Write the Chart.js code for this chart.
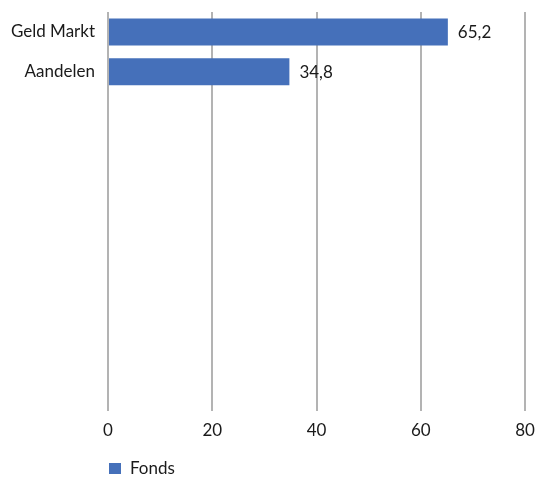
<!DOCTYPE html>
<html>
<head>
<meta charset="utf-8">
<script src="https://cdn.jsdelivr.net/npm/chart.js@4.4.0/dist/chart.umd.min.js"></script>
<style>
  html, body { margin: 0; padding: 0; background: #fff; }
  #wrap { width: 550px; height: 477px; }
</style>
</head>
<body>
<div id="wrap"><canvas id="fondsChart"></canvas></div>
<script>
// categorieën (lege plekken zoals in het origineel)
const categories = ['Geld Markt', 'Aandelen', '', '', '', '', '', '', '', ''];
const fondsValues = [65.2, 34.8, null, null, null, null, null, null, null, null];
const xTicks = [0, 20, 40, 60, 80];

const FONT = "Lato, 'Open Sans', sans-serif";
const FSIZE = 17;
const BLUE = '#4570BA';

// waarde naast de balk tekenen, met komma als decimaalteken
const valueLabels = {
  id: 'valueLabels',
  afterDatasetsDraw(chart) {
    const ctx = chart.ctx;
    const meta = chart.getDatasetMeta(0);
    ctx.save();
    ctx.font = FSIZE + 'px ' + FONT;
    ctx.fillStyle = '#1a1a1a';
    ctx.textAlign = 'left';
    ctx.textBaseline = 'middle';
    meta.data.forEach((bar, i) => {
      const v = fondsValues[i];
      if (v == null) return;
      ctx.fillText(v.toFixed(1).replace('.', ','), bar.x + 10, bar.y + 1);
    });
    ctx.restore();
  }
};

// legenda linksonder, gelijk met de 0-lijn
const bottomLegend = {
  id: 'bottomLegend',
  afterDraw(chart) {
    const ctx = chart.ctx;
    const ds = chart.data.datasets[0];
    const x = chart.chartArea.left + 1;
    const y = 463;
    ctx.save();
    ctx.fillStyle = ds.backgroundColor;
    ctx.fillRect(x, y, 12, 11);
    ctx.font = FSIZE + 'px ' + FONT;
    ctx.fillStyle = '#1a1a1a';
    ctx.textBaseline = 'middle';
    ctx.fillText(ds.label, x + 21, y + 6);
    ctx.restore();
  }
};

new Chart(document.getElementById('fondsChart'), {
  type: 'bar',
  data: {
    labels: categories,
    datasets: [{
      label: 'Fonds',
      data: fondsValues,
      backgroundColor: BLUE,
      borderWidth: 0,
      barPercentage: 0.68,
      categoryPercentage: 1.0
    }]
  },
  options: {
    indexAxis: 'y',
    responsive: true,
    maintainAspectRatio: false,
    animation: false,
    layout: { padding: { left: 0, right: 25, top: 12, bottom: 26 } },
    plugins: {
      legend: { display: false },
      tooltip: { enabled: false }
    },
    scales: {
      x: {
        min: 0,
        max: 80,
        afterBuildTicks(axis) { axis.ticks = xTicks.map(v => ({ value: v })); },
        grid: { color: '#b3b3b3', lineWidth: 2, drawTicks: false },
        border: { display: false },
        ticks: { padding: 10, color: '#1a1a1a', font: { family: FONT, size: FSIZE } }
      },
      y: {
        afterFit(scale) {
          scale.width = 108;
          scale.paddingTop = 0;
          scale.paddingBottom = 0;
        },
        grid: { display: false, drawTicks: false },
        border: { display: false },
        ticks: { padding: 13, color: '#1a1a1a', autoSkip: false, font: { family: FONT, size: FSIZE } }
      }
    }
  },
  plugins: [valueLabels, bottomLegend]
});
</script>
</body>
</html>
